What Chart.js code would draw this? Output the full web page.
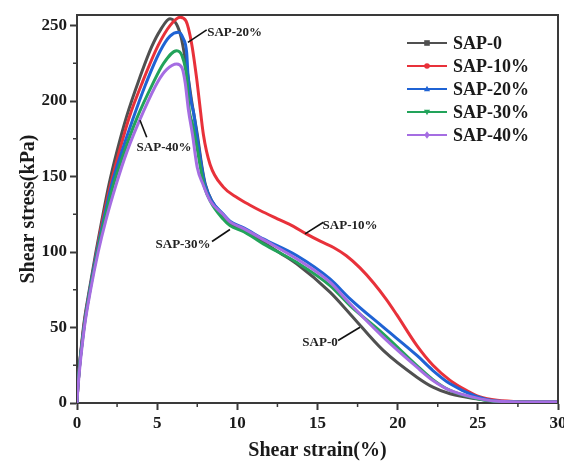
<!DOCTYPE html>
<html>
<head>
<meta charset="utf-8">
<script src="https://cdn.jsdelivr.net/npm/chart.js@4.4.1/dist/chart.umd.min.js"></script>
<style>
  html, body { margin: 0; padding: 0; background: #fff; }
  #wrap { width: 564px; height: 463px; position: relative; }
</style>
</head>
<body>
<div id="wrap"><canvas id="shearChart"></canvas></div>
<script>
const seriesNames = ['SAP-0', 'SAP-10%', 'SAP-20%', 'SAP-30%', 'SAP-40%'];
const seriesColors = ['#505050', '#e8313a', '#1f63d4', '#22a35a', '#a56de2'];
const markerStyles = ['rect', 'circle', 'triangle', 'triangleDown', 'rectRot'];

const xTicks = [0, 5, 10, 15, 20, 25, 30];
const yTicks = [0, 50, 100, 150, 200, 250];

// SAP-0
const strain0 = [0, 0.06, 0.4, 0.77, 1.18, 1.55, 2.0, 2.5, 3.1, 3.83, 4.66, 5.2, 5.8, 6.2, 6.5, 6.75, 6.93, 7.15, 7.5, 7.8, 8.0, 8.4, 9.1, 9.54, 10.4, 11.62, 12.66, 13.7, 15.78, 17.03, 19.1, 21.2, 22.2, 23.27, 24.9, 26, 28, 30];
const stress0 = [0, 12, 50, 75, 100, 121, 145, 167, 190, 213, 236, 247, 254.5, 251, 242, 228, 216, 200, 178, 156, 145, 134, 124, 118.7, 114, 106.5, 99.4, 92.2, 73.4, 59, 34.8, 17.1, 10.5, 6.1, 2.8, 1.2, 0.6, 0.5];

// SAP-10%
const strain10 = [0, 0.06, 0.42, 0.8, 1.22, 1.6, 2.1, 2.65, 3.25, 4.1, 5.07, 5.8, 6.43, 6.8, 7.15, 7.45, 7.63, 7.88, 8.3, 9.13, 10.0, 10.8, 11.42, 12.5, 13.5, 14.3, 15.2, 16.0, 16.8, 17.65, 18.5, 19.3, 19.94, 21.2, 22.2, 23.27, 24.3, 25.1, 26.2, 28, 30];
const stress10 = [0, 12, 50, 75, 100, 121, 145, 167, 189, 213, 237, 250, 255.5, 253, 238, 216, 200, 178, 158, 143, 136, 131, 127.5, 122, 117, 112, 107, 103, 97.5, 89.5, 79.5, 68.5, 58.5, 38, 25, 15, 8.3, 4.2, 1.8, 0.8, 0.6];

// SAP-20%
const strain20 = [0, 0.06, 0.43, 0.8, 1.24, 1.65, 2.15, 2.75, 3.45, 4.24, 5.18, 5.8, 6.32, 6.6, 6.84, 6.93, 7.15, 7.26, 7.47, 7.78, 7.98, 8.4, 9.1, 9.54, 10.4, 11.62, 13.7, 15.78, 17.03, 19.1, 21.2, 22.2, 23.27, 24.9, 26, 28, 30];
const stress20 = [0, 12, 50, 75, 100, 121, 144, 165, 187, 210, 233, 243, 245.6, 242, 232, 216, 198, 193, 178, 156, 145, 134, 125.4, 120.5, 116, 108.7, 97.7, 82.2, 69, 50.2, 31.5, 21.5, 12.7, 4.3, 1.5, 0.7, 0.6];

// SAP-30%
const strain30 = [0, 0.06, 0.44, 0.82, 1.27, 1.7, 2.25, 2.9, 3.75, 4.66, 5.4, 6.22, 6.55, 6.84, 7.0, 7.2, 7.47, 7.75, 7.95, 8.35, 9.1, 9.54, 10.4, 11.62, 13.7, 15.78, 17.03, 19.1, 21.2, 22.2, 23.27, 24.9, 26, 28, 30];
const stress30 = [0, 12, 50, 75, 100, 121, 144, 165, 189, 210, 225, 233.4, 230, 216, 194, 185, 170, 153, 143, 133, 122, 117.5, 113.5, 105.4, 93.2, 77.8, 64.5, 45.8, 24.8, 15.5, 8.3, 3, 1.2, 0.6, 0.5];

// SAP-40%
const strain40 = [0, 0.06, 0.46, 0.85, 1.32, 1.8, 2.45, 3.1, 4.14, 5.05, 5.6, 6.22, 6.55, 6.75, 6.95, 7.2, 7.5, 7.85, 8.3, 9.1, 9.54, 10.4, 11.62, 13.7, 15.78, 17.03, 19.1, 21.2, 22.2, 23.27, 24.9, 26, 28, 30];
const stress40 = [0, 10, 50, 75, 100, 121, 145, 166, 193, 213, 221, 224.6, 222, 212, 194, 178, 156, 145, 134, 125, 120, 115.5, 108.2, 95.5, 80, 65.7, 43.6, 23.7, 14.9, 8.3, 3.4, 1.3, 0.7, 0.6];

const strainSets = [strain0, strain10, strain20, strain30, strain40];
const stressSets = [stress0, stress10, stress20, stress30, stress40];

// callout labels: text, text centre (data units), leader start and end (data units)
const calloutText = ['SAP-20%', 'SAP-40%', 'SAP-30%', 'SAP-10%', 'SAP-0'];
const calloutAt = [[9.83, 245.6], [5.43, 169.4], [6.61, 105], [17.03, 117.5], [15.16, 40.3]];
const calloutFrom = [[6.92, 238.9], [3.93, 187.3], [8.42, 107], [14.22, 112], [16.28, 41.4]];
const calloutTo = [[8.09, 247.2], [4.35, 176], [9.54, 114.9], [15.37, 119.7], [17.65, 50.2]];

const serif = "'Liberation Serif', 'Times New Roman', serif";
const axisColor = '#3a3a3a';

function drawMarker(ctx, style, x, y, r) {
    ctx.beginPath();
    if (style === 'rect') {
        ctx.rect(x - r, y - r, 2 * r, 2 * r);
    } else if (style === 'circle') {
        ctx.arc(x, y, r, 0, Math.PI * 2);
    } else if (style === 'triangle') {
        ctx.moveTo(x, y - r * 1.2);
        ctx.lineTo(x + r * 1.1, y + r * 0.8);
        ctx.lineTo(x - r * 1.1, y + r * 0.8);
        ctx.closePath();
    } else if (style === 'triangleDown') {
        ctx.moveTo(x, y + r * 1.2);
        ctx.lineTo(x + r * 1.1, y - r * 0.8);
        ctx.lineTo(x - r * 1.1, y - r * 0.8);
        ctx.closePath();
    } else {
        ctx.moveTo(x, y - r * 1.3);
        ctx.lineTo(x + r, y);
        ctx.lineTo(x, y + r * 1.3);
        ctx.lineTo(x - r, y);
        ctx.closePath();
    }
    ctx.fill();
}

const extrasPlugin = {
    id: 'extras',
    afterDraw(chart) {
        const ctx = chart.ctx;
        const area = chart.chartArea;
        const xs = chart.scales.x;
        const ys = chart.scales.y;
        ctx.save();

        // frame (top + right)
        ctx.strokeStyle = axisColor;
        ctx.lineWidth = 2;
        ctx.beginPath();
        ctx.moveTo(area.left, area.top);
        ctx.lineTo(area.right, area.top);
        ctx.lineTo(area.right, area.bottom);
        ctx.stroke();

        // minor ticks
        ctx.lineWidth = 1.5;
        ctx.beginPath();
        for (let v = 2.5; v < 30; v += 5) {
            const px = xs.getPixelForValue(v);
            ctx.moveTo(px, area.bottom);
            ctx.lineTo(px, area.bottom + 4);
        }
        for (let v = 25; v < 257; v += 50) {
            const py = ys.getPixelForValue(v);
            ctx.moveTo(area.left, py);
            ctx.lineTo(area.left - 4, py);
        }
        ctx.stroke();

        // callouts
        ctx.font = 'bold 13px ' + serif;
        ctx.fillStyle = '#222';
        ctx.strokeStyle = '#111';
        ctx.lineWidth = 1.6;
        ctx.textAlign = 'center';
        ctx.textBaseline = 'middle';
        calloutText.forEach((t, i) => {
            ctx.beginPath();
            ctx.moveTo(xs.getPixelForValue(calloutFrom[i][0]), ys.getPixelForValue(calloutFrom[i][1]));
            ctx.lineTo(xs.getPixelForValue(calloutTo[i][0]), ys.getPixelForValue(calloutTo[i][1]));
            ctx.stroke();
            ctx.fillText(t, xs.getPixelForValue(calloutAt[i][0]), ys.getPixelForValue(calloutAt[i][1]));
        });

        // legend
        const lx = area.right - 151;
        const ly = area.top + 28;
        ctx.font = 'bold 18px ' + serif;
        ctx.textAlign = 'left';
        seriesNames.forEach((name, i) => {
            const y = ly + i * 23;
            ctx.strokeStyle = seriesColors[i];
            ctx.fillStyle = seriesColors[i];
            ctx.lineWidth = 2;
            ctx.beginPath();
            ctx.moveTo(lx, y);
            ctx.lineTo(lx + 40, y);
            ctx.stroke();
            drawMarker(ctx, markerStyles[i], lx + 20, y, 2.8);
            ctx.fillStyle = '#1a1a1a';
            ctx.fillText(name, lx + 46, y + 1);
        });

        ctx.restore();
    }
};

const datasets = seriesNames.map((name, i) => ({
    label: name,
    data: strainSets[i].map((x, j) => ({ x: x, y: stressSets[i][j] })),
    borderColor: seriesColors[i],
    borderWidth: 3,
    pointRadius: 0,
    fill: false,
    cubicInterpolationMode: 'monotone',
    order: seriesNames.length - i
}));

const config = {
    type: 'line',
    data: { datasets: datasets },
    options: {
        responsive: false,
        animation: false,
        layout: { padding: { left: 17, right: 6, top: 15, bottom: 0 } },
        plugins: {
            legend: { display: false },
            tooltip: { enabled: false }
        },
        scales: {
            x: {
                type: 'linear',
                min: 0,
                max: 30,
                afterBuildTicks: s => { s.ticks = xTicks.map(v => ({ value: v })); },
                afterFit: s => { s.height = 60; s.paddingRight = 0; s.paddingLeft = 0; },
                grid: { drawOnChartArea: false, tickLength: 7, tickColor: axisColor, tickWidth: 2 },
                border: { color: axisColor, width: 2 },
                ticks: { color: '#1a1a1a', padding: 3, font: { family: serif, size: 17, weight: 'bold' } },
                title: {
                    display: true,
                    text: 'Shear strain(%)',
                    color: '#1a1a1a',
                    padding: 0,
                    font: { family: serif, size: 20, weight: 'bold' }
                }
            },
            y: {
                min: 0,
                max: 257,
                afterBuildTicks: s => { s.ticks = yTicks.map(v => ({ value: v })); },
                afterFit: s => { s.width = 60; s.paddingTop = 0; s.paddingBottom = 0; },
                grid: { drawOnChartArea: false, tickLength: 7, tickColor: axisColor, tickWidth: 2 },
                border: { color: axisColor, width: 2 },
                ticks: { color: '#1a1a1a', padding: 3, font: { family: serif, size: 17, weight: 'bold' } },
                title: {
                    display: true,
                    text: 'Shear stress(kPa)',
                    color: '#1a1a1a',
                    padding: 0,
                    font: { family: serif, size: 20, weight: 'bold' }
                }
            }
        }
    },
    plugins: [extrasPlugin]
};

const canvas = document.getElementById('shearChart');
canvas.width = 564;
canvas.height = 463;
new Chart(canvas.getContext('2d'), config);
</script>
</body>
</html>
